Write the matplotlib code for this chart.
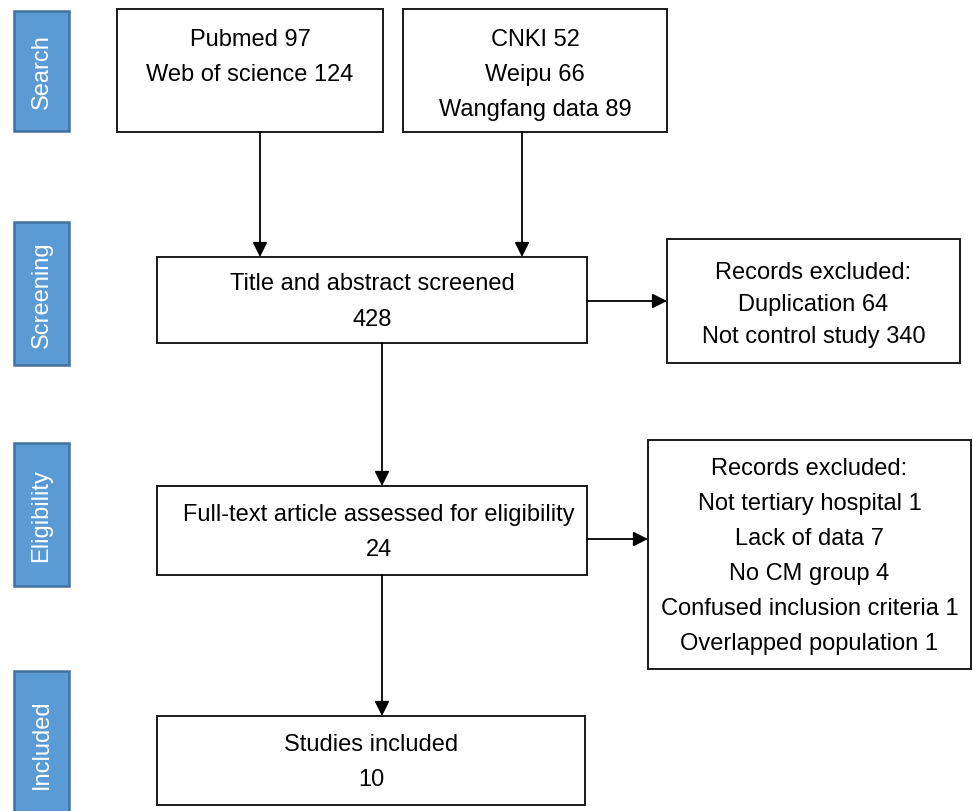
import matplotlib.pyplot as plt
from matplotlib.patches import Rectangle

plt.rcParams['font.family'] = ['Liberation Sans', 'DejaVu Sans']

# Stage labels down the left side
stages = ['Search', 'Screening', 'Eligibility', 'Included']

# Counts shown in the flow boxes
search_en = ['Pubmed 97', 'Web of science 124']
search_cn = ['CNKI 52', 'Weipu 66', 'Wangfang data 89']
screened = ['Title and abstract screened', '428']
excluded_screen = ['Records excluded:', 'Duplication 64', 'Not control study 340']
assessed = ['Full-text article assessed for eligibility', '24']
excluded_full = ['Records excluded:', 'Not tertiary hospital 1', 'Lack of data 7',
                 'No CM group 4', 'Confused inclusion criteria 1',
                 'Overlapped population 1']
included = ['Studies included', '10']

# Layout in pixels (x0, y0, x1, y1), y measured from the top
stage_boxes = [(14, 12, 69, 132), (14, 223, 69, 366), (14, 444, 69, 587), (14, 672, 69, 816)]
box_search_en = (117, 10, 383, 133)
box_search_cn = (403, 10, 667, 133)
box_screened = (157, 258, 587, 344)
box_excl1 = (667, 240, 960, 364)
box_assessed = (157, 487, 587, 576)
box_excl2 = (648, 441, 971, 670)
box_included = (157, 717, 585, 806)

FS = 17
LS = 1.77

fig = plt.figure(figsize=(9.73, 8.12), dpi=100)
ax = fig.add_axes([0, 0, 1, 1])
ax.set_xlim(0, 973)
ax.set_ylim(812, 0)
ax.axis('off')


def draw_box(b, lines, top_pad=None, xoff=0, ls=LS, yoff=1):
    x0, y0, x1, y1 = b
    ax.add_patch(Rectangle((x0, y0), x1 - x0, y1 - y0, fill=False,
                           edgecolor='#1a1a1a', linewidth=1.4))
    if top_pad is None:
        ax.text((x0 + x1) / 2 + xoff, (y0 + y1) / 2 + yoff, '\n'.join(lines),
                ha='center', va='center', fontsize=FS, linespacing=ls)
    else:
        ax.text((x0 + x1) / 2 + xoff, y0 + top_pad, '\n'.join(lines),
                ha='center', va='top', fontsize=FS, linespacing=ls,
                multialignment='center')


def arrow(p, q):
    ax.annotate('', xy=q, xytext=p,
                arrowprops=dict(arrowstyle='-|>', color='black', lw=1.3,
                                mutation_scale=22, shrinkA=0, shrinkB=0))


for name, (x0, y0, x1, y1) in zip(stages, stage_boxes):
    ax.add_patch(Rectangle((x0, y0), x1 - x0, y1 - y0, facecolor='#5B9BD5',
                           edgecolor='#41719C', linewidth=1.8))
    ax.text((x0 + x1) / 2, (y0 + y1) / 2, name, rotation=90, color='white',
            ha='center', va='center', fontsize=FS)

draw_box(box_search_en, search_en, top_pad=19)
draw_box(box_search_cn, search_cn, top_pad=19)
draw_box(box_screened, screened)
draw_box(box_excl1, excluded_screen, ls=1.6, yoff=3)
draw_box(box_assessed, assessed, xoff=7)
draw_box(box_excl2, excluded_full, yoff=1)
draw_box(box_included, included)

# connectors
arrow((260, 133), (260, 258))
arrow((522, 133), (522, 258))
arrow((587, 302), (667, 302))
arrow((382, 344), (382, 487))
arrow((587, 540), (648, 540))
arrow((382, 576), (382, 717))

fig.savefig('out.png', dpi=100)
